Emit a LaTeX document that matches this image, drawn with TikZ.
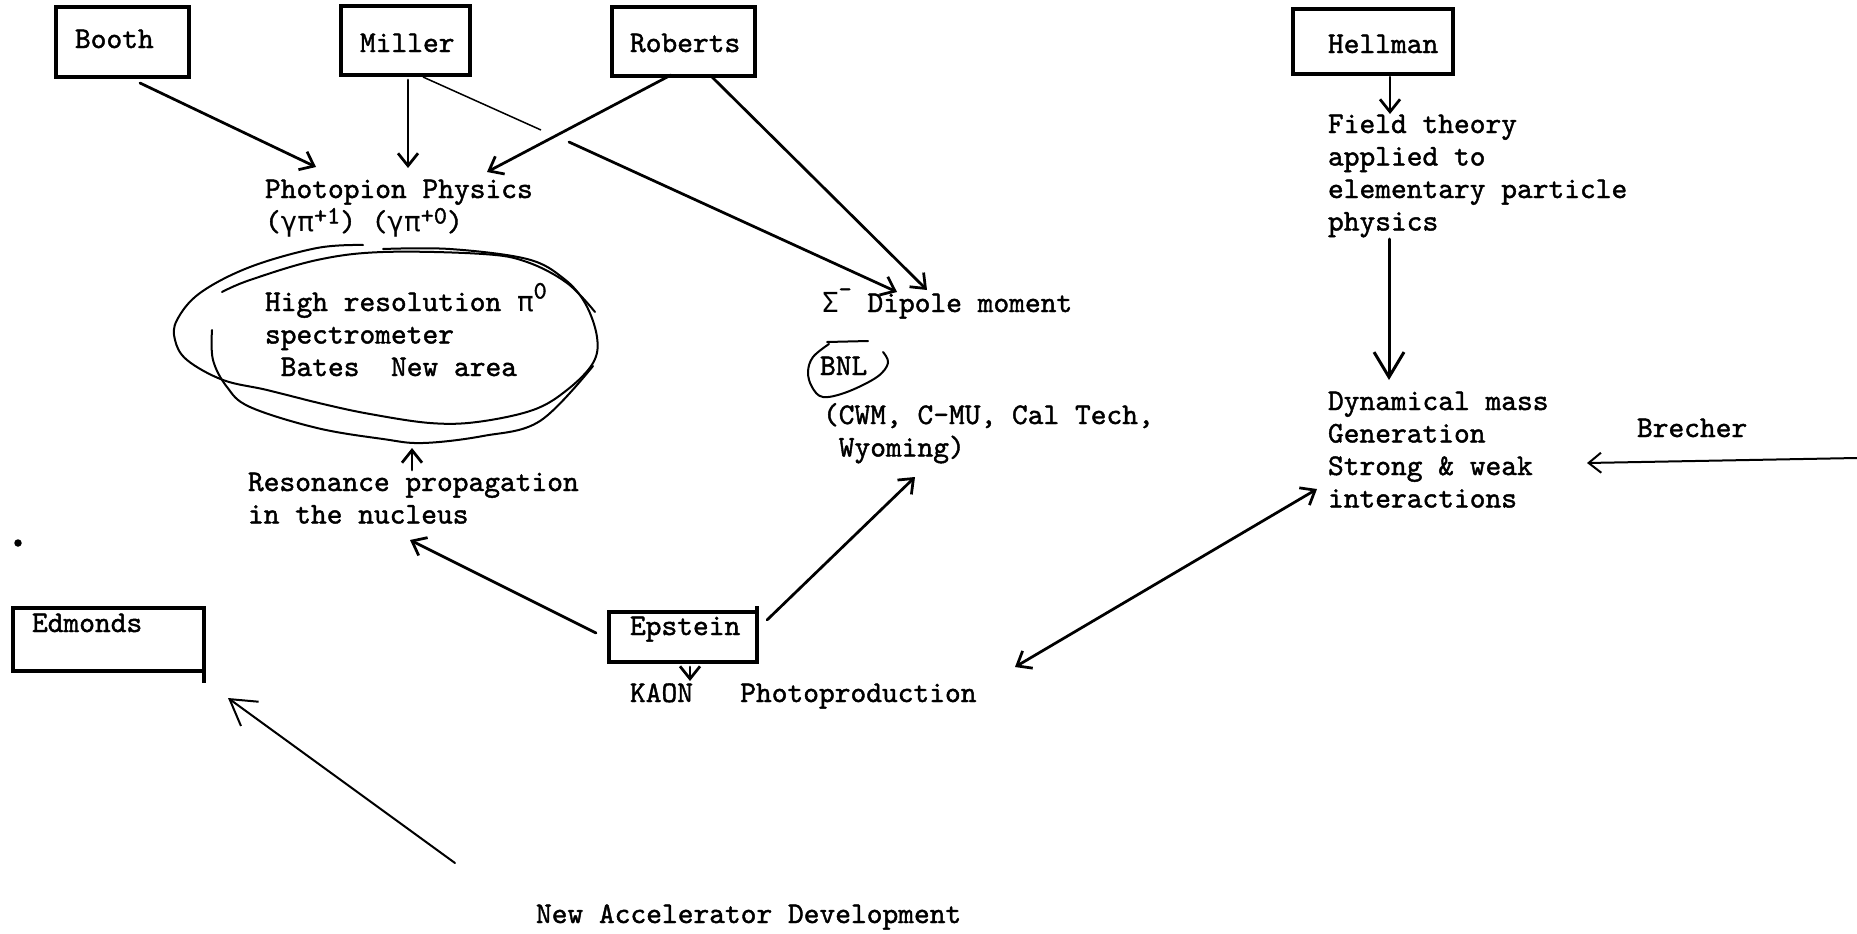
\documentclass[tikz,border=0pt]{standalone}
\usepackage{fontspec}
\setmonofont{lmmono10-regular.otf}[FakeBold=1.4]
\newfontfamily\grk{DejaVu Sans Mono}[Scale=0.92]
\usetikzlibrary{arrows.meta,calc,fit}

% lines of a text block, aligned left, baseline at the first line
\newcommand{\txtlines}[1]{\begin{tabular}[t]{@{}l@{}}#1\end{tabular}}
% typed superscript
\newcommand{\sups}[2][3pt]{\raisebox{#1}{\fontsize{10}{10}\selectfont #2}}
\newcommand{\gam}{{\grk γ}}
\newcommand{\piup}{{\grk π}}

\begin{document}
\begin{tikzpicture}[x=0.4pt, y=-0.4pt,
  every node/.style={inner sep=0pt, outer sep=0pt},
  tw/.style={font=\fontsize{12}{13}\selectfont\ttfamily, anchor=base west},
  namebox/.style={draw, line width=1.3pt},
  conn/.style={line width=1.1pt, line cap=round, -{Straight Barb[length=5pt,width=8pt]}},
  dblconn/.style={line width=1.1pt, line cap=round, {Straight Barb[length=5pt,width=8pt]}-{Straight Barb[length=5pt,width=8pt]}},
  bigconn/.style={line width=1.2pt, line cap=round, -{Straight Barb[length=10pt,width=12pt]}},
  hand/.style={line width=0.8pt, line cap=round, line join=round},
]
\fill[white] (0,0) rectangle (1857,933);
\useasboundingbox (0,0) rectangle (1857,933);

% name boxes
\node[namebox, fit={(56,7) (189,77)}] (booth) {};
\node[namebox, fit={(341,6) (470,75)}] (miller) {};
\node[namebox, fit={(612,7) (755,76)}] (roberts) {};
\node[namebox, fit={(1293,9) (1453,74)}] (hellman) {};
\node[namebox, fit={(13,608) (204,671)}] (edmonds) {};
\node[namebox, fit={(609,612) (757,662)}] (epstein) {};
\draw[line width=1.3pt] (edmonds.south east) -- ++(0,12);
\draw[line width=1.3pt] (epstein.north east) -- ++(0,-6);

\node[tw] (boothT) at (75,48) {Booth};
\node[tw] (millerT) at (360,52) {Miller};
\node[tw] (robertsT) at (630,52) {Roberts};
\node[tw] (hellmanT) at (1328,53) {Hellman};
\node[tw] (edmondsT) at (32,632) {Edmonds};
\node[tw] (epsteinT) at (630,635) {Epstein};

% topics
\node[tw] (photo) at (265,198) {Photopion Physics};
\node[tw] (gpi) at (265,231) {(\gam\piup\sups{+1}) (\gam\piup\sups{+0})};
\node[tw] (hires) at (265,311) {\txtlines{High resolution \piup\sups[5pt]{0}\\spectrometer\\~Bates~~New area}};
\node[tw] (reso) at (248,491) {\txtlines{Resonance propagation\\in the nucleus}};
\node[tw] (dip) at (822,312) {{\grk Σ}\sups[6pt]{-}~Dipole moment};
\node[tw] (bnl) at (820,375) {BNL};
\node[tw] (cwm) at (823,424) {\txtlines{(CWM, C-MU, Cal Tech,\\~Wyoming)}};
\node[tw] (kaon) at (630,702) {KAON~~~Photoproduction};
\node[tw] (newacc) at (536,923) {New Accelerator Development};
\node[tw] (field) at (1328,133) {\txtlines{Field theory\\applied to\\elementary particle\\physics}};
\node[tw] (dyn) at (1328,410) {\txtlines{Dynamical mass\\Generation\\Strong \& weak\\interactions}};
\node[tw] (brecher) at (1637,437) {Brecher};

% hand-drawn loop round the spectrometer
\draw[hand] plot[smooth, tension=0.6] coordinates {(363,245) (317,248) (250,267) (200,293) (177,320) (175,340) (187,360) (223,380) (267,390) (323,404) (370,414) (430,423) (477,422) (533,410) (567,390) (593,363) (597,337) (585,303) (563,278) (527,259) (450,249) (383,249)};
\draw[hand] plot[smooth, tension=0.6] coordinates {(222,292) (250,280) (317,260) (383,252) (483,254) (527,262) (567,283) (595,312)};
\draw[hand] plot[smooth, tension=0.6] coordinates {(212,330) (213,360) (227,387) (250,407) (317,428) (383,439) (423,443) (483,436) (540,421) (593,366)};

% circle round BNL
\draw[hand] (827,342) -- (868,341);
\draw[hand] plot[smooth, tension=0.6] coordinates {(829,344) (813,357) (808,372) (812,387) (823,397) (847,392) (877,377) (888,363) (883,352)};

% connections
\draw[conn] ($(booth.south west)+(84,6)$) -- ($(photo.base west)+(51,-31)$);
\draw[conn] ($(miller.south west)+(67,5)$) -- ($(photo.base west)+(143,-30)$);
\draw[line width=0.6pt] ($(miller.south west)+(82,2)$) -- ++(118,53);
\draw[conn] ($(miller.south west)+(228,67)$) -- ($(dip.base west)+(75,-20)$);
\draw[conn] ($(roberts.south west)+(59,-1)$) -- ($(photo.base west)+(222,-26)$);
\draw[conn] ($(roberts.south west)+(100,1)$) -- ($(dip.base west)+(105,-22)$);
\draw[conn] ($(hellman.south west)+(97,3)$) -- ($(field.base west)+(62,-19)$);
\draw[bigconn] ($(field.base west)+(61,106)$) -- ($(dyn.base west)+(61,-30)$);
\coordinate (rimR) at (1857,458);
\draw[conn, line width=0.8pt] (rimR) -- ($(dyn.base west)+(259,53)$);
\draw[dblconn] ($(kaon.base west)+(385,-35)$) -- ($(dyn.base west)+(-11,79)$);
\draw[conn] ($(epstein.south west)+(-13,-29)$) -- ($(reso.base west)+(162,49)$);
\draw[conn] ($(epstein.north east)+(10,8)$) -- ($(cwm.base west)+(92,53)$);
\draw[conn] ($(epstein.south west)+(81,5)$) -- ($(kaon.base west)+(60,-21)$);
\draw[conn] ($(reso.base west)+(164,-21)$) -- ($(hires.base west)+(147,137)$);
\draw[bigconn, line width=0.8pt] ($(newacc.base west)+(-81,-60)$) -- ($(edmonds.south east)+(24,27)$);

\fill (18,543) circle (1.5pt);
\end{tikzpicture}
\end{document}
